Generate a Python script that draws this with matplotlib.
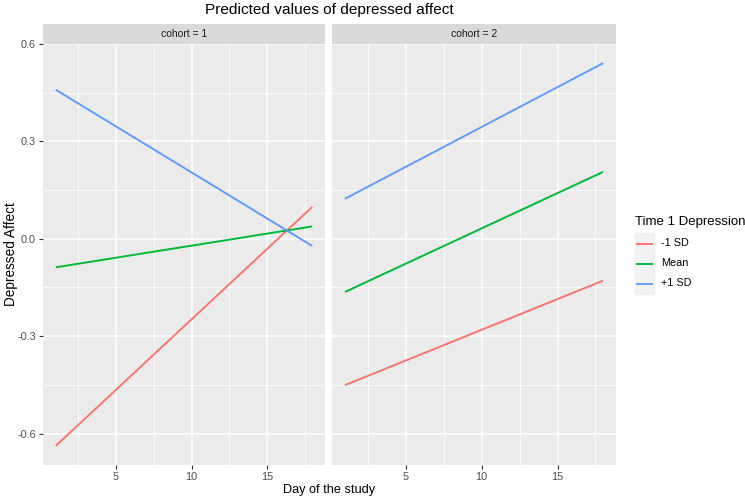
import numpy as np
import matplotlib
matplotlib.use('Agg')
import matplotlib.pyplot as plt
from matplotlib.lines import Line2D
from matplotlib.patches import Rectangle

plt.rcParams['font.family'] = ['Liberation Sans', 'DejaVu Sans']

# data: predicted values at day 1 and day 18 (straight lines)
days = [1, 18]
cohorts = ['cohort = 1', 'cohort = 2']
groups = ['-1 SD', 'Mean', '+1 SD']
colors = ['#F8766D', '#00BA38', '#619CFF']
low_sd = [[-0.638, 0.098], [-0.451, -0.129]]
mean_ = [[-0.088, 0.038], [-0.164, 0.206]]
high_sd = [[0.459, -0.022], [0.123, 0.541]]
series = [low_sd, mean_, high_sd]

W, H = 745, 500
fig = plt.figure(figsize=(W/100., H/100.), dpi=100)

def fx(px): return px/float(W)
def fy(py): return 1 - py/float(H)

# panel boxes in pixels: left, right, top, bottom
panels = [(43, 325), (332, 616)]
ptop, pbot, strip_top = 44, 465, 24

for i, (l, r) in enumerate(panels):
	ax = fig.add_axes([fx(l), fy(pbot), fx(r-l), (pbot-ptop)/float(H)])
	ax.set_facecolor('#EBEBEB')
	for s in ax.spines.values(): s.set_visible(False)
	for k in range(3):
		ax.plot(days, series[k][i], color=colors[k], lw=1.4, solid_capstyle='butt', zorder=3)
	ax.set_xlim(0.15, 18.85); ax.set_ylim(-0.697, 0.600)
	ax.set_xticks([5, 10, 15]); ax.set_xticks([2.5, 7.5, 12.5, 17.5], minor=True)
	ax.set_yticks([-0.6, -0.3, 0.0, 0.3, 0.6]); ax.set_yticks([-0.45, -0.15, 0.15, 0.45], minor=True)
	ax.grid(which='major', color='white', lw=1.1, zorder=0)
	ax.grid(which='minor', color='white', lw=0.55, zorder=0)
	ax.set_axisbelow(True)
	ax.tick_params(which='minor', length=0)
	ax.tick_params(which='major', length=3, width=0.8, color='#333333', labelcolor='#4D4D4D', labelsize=7.8, pad=2)
	ax.set_yticklabels(['-0.6', '-0.3', '0.0', '0.3', '0.6'])
	if i == 1:
		ax.tick_params(axis='y', left=False, labelleft=False)
	# facet strip
	sax = fig.add_axes([fx(l), fy(ptop), fx(r-l), (ptop-strip_top)/float(H)])
	sax.set_facecolor('#D9D9D9'); sax.set_xticks([]); sax.set_yticks([])
	for s in sax.spines.values(): s.set_visible(False)
	sax.text(0.5, 0.5, cohorts[i], ha='center', va='center', fontsize=7.5, color='#1A1A1A', transform=sax.transAxes)

fig.text(fx(11.5), fy((ptop+pbot)/2.), 'Depressed Affect', ha='center', va='center', rotation=90, fontsize=9.8)
fig.text(fx((43+616)/2.), fy(490), 'Day of the study', ha='center', va='center', fontsize=9.2)
fig.text(fx((43+616)/2.), fy(10), 'Predicted values of depressed affect', ha='center', va='center', fontsize=11.1)

# legend
fig.text(fx(635), fy(222), 'Time 1 Depression', ha='left', va='center', fontsize=9.5)
fig.add_artist(Rectangle((fx(635), fy(294)), fx(19), (294-233)/float(H), transform=fig.transFigure, color='#F2F2F2', zorder=0))
for k in range(3):
	yy = 243.5 + 20*k
	fig.add_artist(Line2D([fx(637), fx(652)], [fy(yy), fy(yy)], color=colors[k], lw=1.4, transform=fig.transFigure))
	fig.text(fx(661), fy(yy), groups[k], ha='left', va='center', fontsize=7.8)

fig.savefig('out.png', dpi=100)
